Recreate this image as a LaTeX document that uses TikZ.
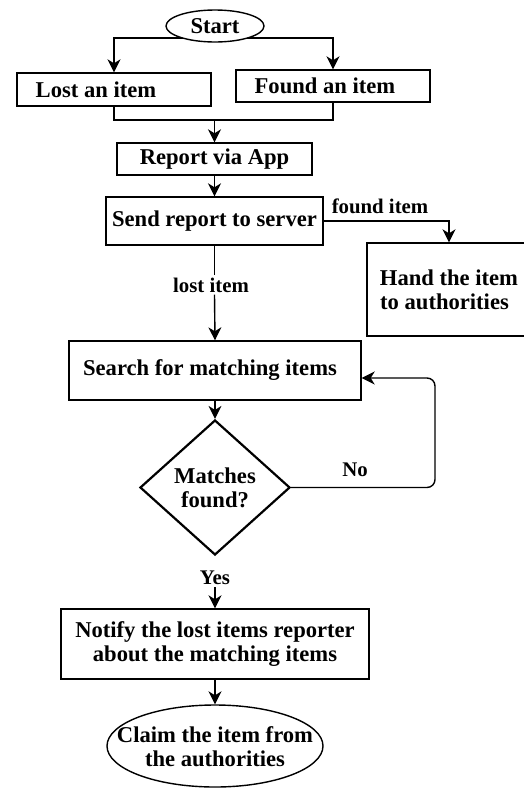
\documentclass[tikz,border=0pt]{standalone}
\usepackage{fontspec}
\setmainfont{Liberation Serif}
\usetikzlibrary{shapes.geometric,arrows.meta,backgrounds}
\begin{document}
\begin{tikzpicture}[x=1pt,y=-1pt,
  every node/.style={font=\fontsize{22.6}{24}\selectfont\bfseries, inner sep=0pt},
  box/.style={draw, line width=1.4pt, fill=white, rectangle, align=center},
  lbl/.style={font=\fontsize{20.8}{23}\selectfont\bfseries, inner sep=2pt},
  arr/.style={line width=1.4pt, -{Stealth[length=13pt,width=13pt,inset=4pt]}},
  ln/.style={line width=1.4pt}]
\useasboundingbox (0,0) rectangle (524,788);
\node[ellipse, draw, line width=1.4pt, fill=white, minimum width=98pt, minimum height=32pt] (start) at (215,26) {Start};
\node[box, minimum width=194pt, minimum height=33pt] (lost) at (114,89.5) {Lost an item\hspace*{36pt}};
\node[box, minimum width=194pt, minimum height=32pt] (found) at (333,86) {Found an item\hspace*{16pt}};
\node[box, minimum width=195pt, minimum height=32pt] (report) at (214.5,159) {Report via App};
\node[box, minimum width=217pt, minimum height=48pt] (send) at (214.5,221) {Send report to server};
\node[box, minimum width=164pt, minimum height=93pt] (hand) at (449,289.5) {Hand the item\\to authorities\hspace*{9pt}};
\node[box, minimum width=292pt, minimum height=59pt] (search) at (215,370.5) {Search for matching items\hspace*{10pt}};
\node[diamond, draw, line width=2.2pt, fill=white, align=center, minimum width=150pt, minimum height=135pt] (dec) at (215,487.5) {Matches\\found?};
\node[box, minimum width=308pt, minimum height=70pt] (notify) at (215,644) {Notify the lost items reporter\\about the matching items};
\node[ellipse, draw, line width=1.4pt, fill=white, minimum width=216pt, minimum height=82pt] (claim) at (215,746) {};
\node[align=center] (claimtxt) at (215,747) {Claim the item from\\the authorities};
\node[lbl] (foundlbl) at (380,206) {found item};
\node[lbl] (lostlbl) at (211,285) {lost item};
\node[lbl] (nolbl) at (355,470) {No};
\node[lbl] (yeslbl) at (215,578) {Yes};
\coordinate (join) at (214.5,120);
\coordinate (loopR) at (435,378);
\begin{scope}[on background layer]
\draw[arr] ([yshift=-12pt]start.center) -| (lost.north);
\draw[arr] ([yshift=-12pt]start.center) -| (found.north);
\draw[ln] (lost.south) |- (join) -| (found.south);
\draw[arr] (join) -- (report.north);
\draw[arr] (report.south) -- (send.north);
\draw[arr] (send.east) -| (hand.north);
\draw[ln] (send.south) -- (send.south |- lostlbl.north);
\draw[arr] (send.south |- lostlbl.south) -- (search.north);
\draw[arr] (search.south) -- (dec.north);
\draw[arr, rounded corners=8pt] (dec.east) -| (loopR) -- (search.east |- loopR);
\draw[arr] (yeslbl.south) -- (notify.north);
\draw[arr] (notify.south) -- (claim.north);
\end{scope}
\end{tikzpicture}
\end{document}
